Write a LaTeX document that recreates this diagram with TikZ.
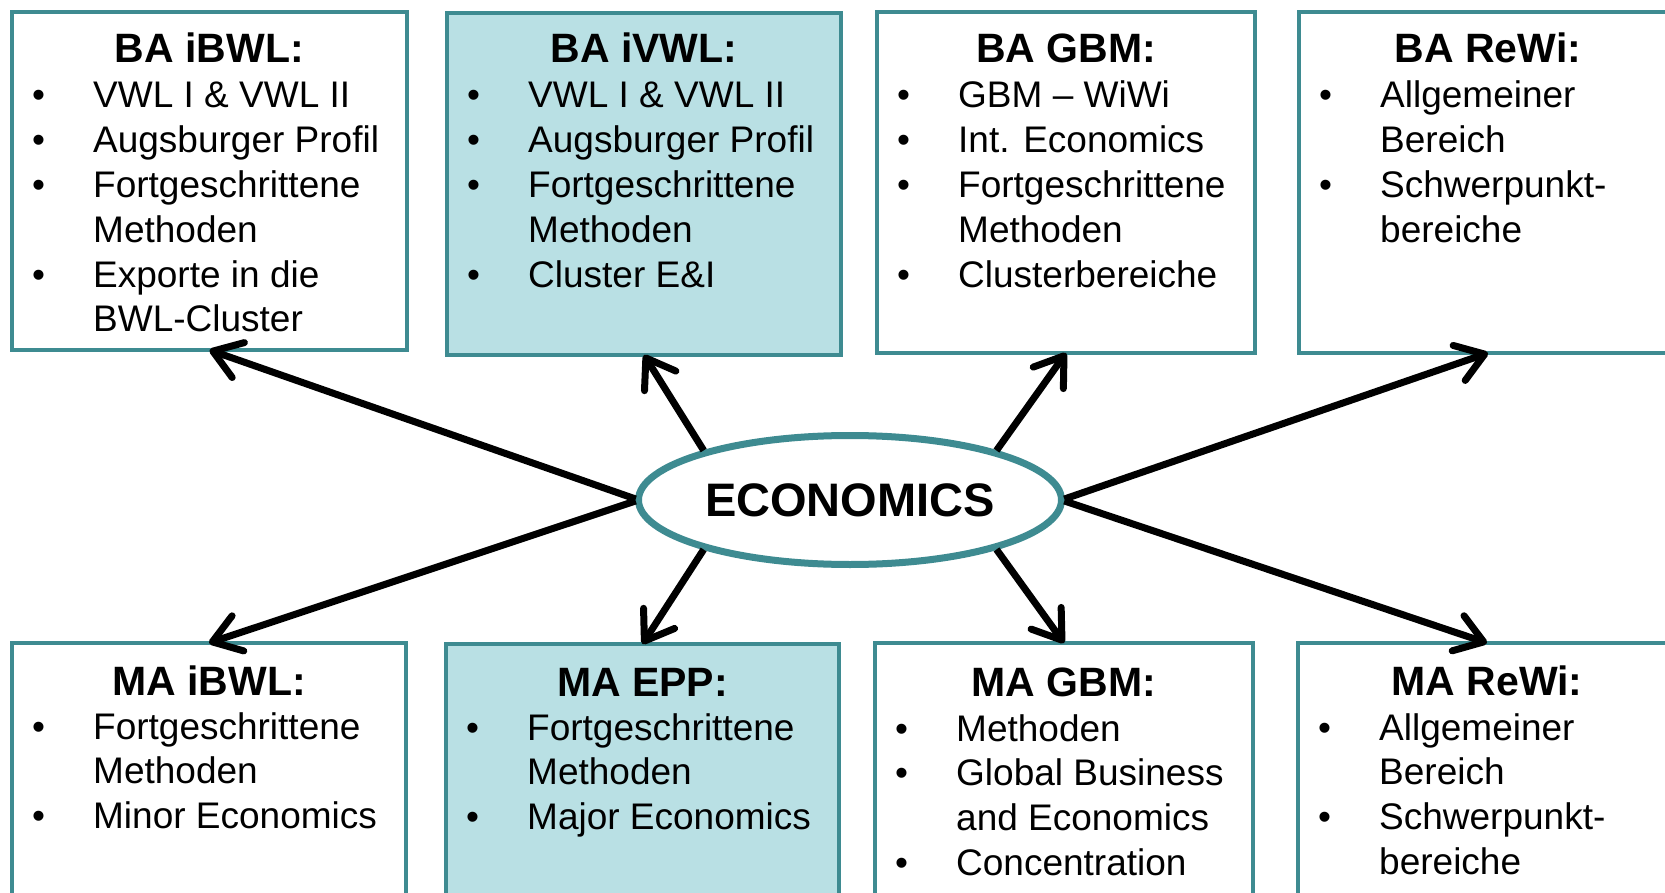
\documentclass[tikz,border=0pt]{standalone}
\usepackage{fontspec}
\setmainfont{Liberation Sans}
\usetikzlibrary{arrows.meta,shapes.geometric,calc}
\definecolor{tealline}{RGB}{62,139,145}
\definecolor{lightfill}{RGB}{185,224,228}
\newcommand{\itm}[1]{\makebox[61pt][l]{\textbullet}#1}
\newcommand{\cnt}[1]{\hspace*{61pt}#1}
\newcommand{\bodytext}[1]{\parbox[t]{500pt}{\raggedright #1}}
\begin{document}
\begin{tikzpicture}[x=1pt,y=-1pt,
  box/.style={draw=tealline, line width=4.5pt, fill=white, rectangle, inner sep=0pt, outer sep=0pt},
  hbox/.style={box, fill=lightfill},
  ttl/.style={anchor=base, inner sep=0pt, font=\fontsize{41}{48}\selectfont\bfseries},
  body/.style={anchor=base west, inner sep=0pt, font=\fontsize{37}{44.8}\selectfont},
  conn/.style={line width=7pt, shorten <=3pt, -{Straight Barb[length=27pt,width=37pt,round]}},
]
\useasboundingbox (0,0) rectangle (1665,893);
\clip (0,0) rectangle (1665,893);
\fill[white] (0,0) rectangle (1665,893);

% top row
\node[box,  minimum width=395pt, minimum height=338pt] (b1) at (209.5,181) {};
\node[hbox, minimum width=394pt, minimum height=342pt] (b2) at (644,184) {};
\node[box,  minimum width=378pt, minimum height=341pt] (b3) at (1066,182.5) {};
\node[box,  minimum width=378pt, minimum height=341pt] (b4) at (1488,182.5) {};
% bottom row
\node[box,  minimum width=394pt, minimum height=267pt] (b5) at (209,776.5) {};
\node[hbox, minimum width=393pt, minimum height=266pt] (b6) at (642.5,777) {};
\node[box,  minimum width=378pt, minimum height=267pt] (b7) at (1064,776.5) {};
\node[box,  minimum width=378pt, minimum height=267pt] (b8) at (1487,776.5) {};

% titles
\node[ttl] (t1) at ($(b1.north)+(0,50.5)$) {BA iBWL:};
\node[ttl] (t2) at ($(b2.north)+(0,50)$) {BA iVWL:};
\node[ttl] (t3) at ($(b3.north)+(0,50.5)$) {BA GBM:};
\node[ttl] (t4) at ($(b4.north)+(0,50.5)$) {BA ReWi:};
\node[ttl] (t5) at ($(b5.north)+(0,52.5)$) {MA iBWL:};
\node[ttl] (t6) at ($(b6.north)+(0,52.5)$) {MA EPP:};
\node[ttl] (t7) at ($(b7.north)+(0,53)$) {MA GBM:};
\node[ttl] (t8) at ($(b8.north)+(0,52.5)$) {MA ReWi:};

% bodies
\node[body] (d1) at ($(b1.north west)+(20,96)$) {\bodytext{%
  \itm{VWL I \& VWL II}\\ \itm{Augsburger Profil}\\ \itm{Fortgeschrittene}\\ \cnt{Methoden}\\
  \itm{Exporte in die}\\ \cnt{BWL-Cluster}}};
\node[body] (d2) at ($(b2.north west)+(20,95)$) {\bodytext{%
  \itm{VWL I \& VWL II}\\ \itm{Augsburger Profil}\\ \itm{Fortgeschrittene}\\ \cnt{Methoden}\\
  \itm{Cluster E\&I}}};
\node[body] (d3) at ($(b3.north west)+(20,96)$) {\bodytext{%
  \itm{GBM – WiWi}\\ \itm{Int. Economics}\\ \itm{Fortgeschrittene}\\ \cnt{Methoden}\\
  \itm{Clusterbereiche}}};
\node[body] (d4) at ($(b4.north west)+(20,96)$) {\bodytext{%
  \itm{Allgemeiner}\\ \cnt{Bereich}\\ \itm{Schwerpunkt-}\\ \cnt{bereiche}}};
\node[body] (d5) at ($(b5.north west)+(20,96)$) {\bodytext{%
  \itm{Fortgeschrittene}\\ \cnt{Methoden}\\ \itm{Minor Economics}}};
\node[body] (d6) at ($(b6.north west)+(20,96)$) {\bodytext{%
  \itm{Fortgeschrittene}\\ \cnt{Methoden}\\ \itm{Major Economics}}};
\node[body] (d7) at ($(b7.north west)+(20,98)$) {\bodytext{%
  \itm{Methoden}\\ \itm{Global Business}\\ \cnt{and Economics}\\ \itm{Concentration}}};
\node[body] (d8) at ($(b8.north west)+(20,97)$) {\bodytext{%
  \itm{Allgemeiner}\\ \cnt{Bereich}\\ \itm{Schwerpunkt-}\\ \cnt{bereiche}}};

% centre ellipse
\node[ellipse, draw=tealline, line width=7pt, fill=white, inner sep=0pt, outer sep=0pt,
      minimum width=423pt, minimum height=129pt,
      font=\fontsize{47}{56}\selectfont\bfseries] (eco) at (850,500) {ECONOMICS};

% connectors
\draw[conn] (eco.west) -- (b1.south);
\draw[conn] (eco.162)  -- (b2.south);
\draw[conn] (eco.18)   -- (b3.south);
\draw[conn] (eco.east) -- (b4.south);
\draw[conn] (eco.west) -- (b5.north);
\draw[conn] (eco.198)  -- (b6.north);
\draw[conn] (eco.342)  -- (b7.north);
\draw[conn] (eco.east) -- (b8.north);
\end{tikzpicture}
\end{document}
